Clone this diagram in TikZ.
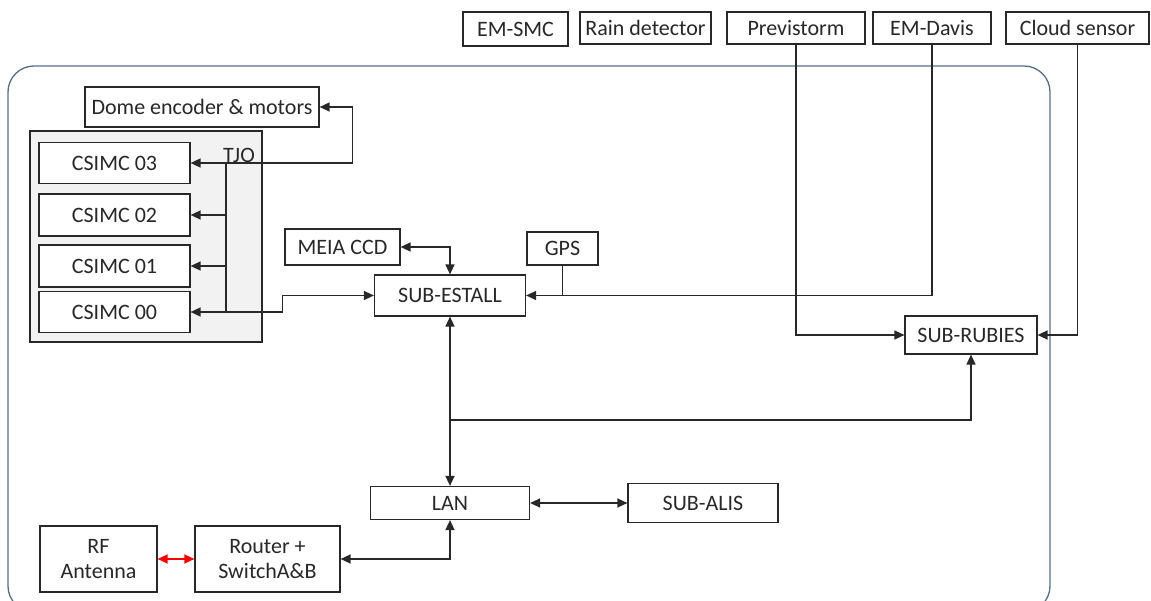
\documentclass[tikz,border=0pt]{standalone}
\usepackage{fontspec}
\setmainfont{Carlito}
\usepackage{tikz}
\usetikzlibrary{arrows.meta}
\definecolor{framec}{RGB}{84,110,140}
\definecolor{tjofill}{RGB}{242,242,242}
\definecolor{ink}{RGB}{40,40,40}
\tikzstyle{blk} = [draw=ink, rectangle, line width=1.2pt, inner sep=0pt, align=center, fill=white]
\tikzstyle{link} = [ink, line width=1.4pt, >={Triangle[length=10pt, width=9pt]}]

\begin{document}
\begin{tikzpicture}[x=1pt, y=-1pt, font=\fontsize{22}{25}\selectfont, text=ink]
        \useasboundingbox (0,0) rectangle (1151,601);
        \clip (0,0) rectangle (1151,601);
        % outer frame and TJO group
        \draw [framec, line width=1.3pt, rounded corners=26pt] (8,66) rectangle (1050,612);
        \draw [draw=ink, fill=tjofill, line width=1.2pt] (30,131) rectangle (262,342);
        % sensors on top
        \node (emsmc) [blk, minimum width=105pt, minimum height=34pt] at (515.5,29) {EM-SMC};
        \node (rain) [blk, minimum width=131pt, minimum height=32pt] at (645.5,28) {Rain detector};
        \node (previ) [blk, minimum width=138pt, minimum height=32pt] at (796,28) {Previstorm};
        \node (davis) [blk, minimum width=118pt, minimum height=32pt] at (932,28) {EM-Davis};
        \node (cloud) [blk, minimum width=143pt, minimum height=32pt] at (1077.5,28) {Cloud sensor};
        % TJO
        \node (dome) [blk, minimum width=234pt, minimum height=40pt] at (202,107) {Dome encoder \& motors};
        \node (csimc3) [blk, minimum width=151pt, minimum height=41pt] at (114.5,163) {CSIMC 03};
        \node (csimc2) [blk, minimum width=151pt, minimum height=42pt] at (114.5,215) {CSIMC 02};
        \node (csimc1) [blk, minimum width=151pt, minimum height=42pt] at (114.5,266) {CSIMC 01};
        \node (csimc0) [blk, minimum width=151pt, minimum height=41pt] at (114.5,312) {CSIMC 00};
        \node (tjo) at (239,155) {TJO};
        % subsystems
        \node (meia) [blk, minimum width=115pt, minimum height=36pt] at (342.5,247) {MEIA CCD};
        \node (gps) [blk, minimum width=71pt, minimum height=33pt] at (562.5,248.5) {GPS};
        \node (estall) [blk, minimum width=151pt, minimum height=41pt] at (450,295.5) {SUB-ESTALL};
        \node (rubies) [blk, minimum width=132pt, minimum height=38pt] at (971,335) {SUB-RUBIES};
        \node (lan) [blk, minimum width=159pt, minimum height=33pt] at (450,503) {LAN};
        \node (alis) [blk, minimum width=150pt, minimum height=39pt] at (703,503) {SUB-ALIS};
        \node (router) [blk, minimum width=145pt, minimum height=66pt] at (267.5,559) {Router +\\SwitchA\&B};
        \node (rf) [blk, minimum width=117pt, minimum height=66pt] at (98.5,559) {RF\\Antenna};
        \coordinate (bt) at (226,163);
        \coordinate (bb) at (226,312);
        \coordinate (br) at (450,420);
        % connectors
        \draw [link, <->] (csimc3.east) -- ++(162,0) |- (dome.east);
        \draw [link] (bt) -- (bb);
        \draw [link, ->] (bt |- csimc2.east) -- (csimc2.east);
        \draw [link, ->] (bt |- csimc1.east) -- (csimc1.east);
        \draw [link, <->] (csimc0.east) -- ++(92,0) |- (estall.west);
        \draw [link, <->] (meia.east) -| (estall.north);
        \draw [link, ->] (davis.south) |- (estall.east);
        \draw [link] (gps.south) -- (gps.south |- estall.east);
        \draw [link, ->] (previ.south) |- (rubies.west);
        \draw [link, ->] (cloud.south) |- (rubies.east);
        \draw [link, <->] (estall.south) -- (lan.north);
        \draw [link, ->] (br) -| (rubies.south);
        \draw [link, <->] (lan.east) -- (alis.west);
        \draw [link, <->] (router.east) -| (lan.south);
        \draw [link, red, <->] (rf.east) -- (router.west);
    \end{tikzpicture}
\end{document}
